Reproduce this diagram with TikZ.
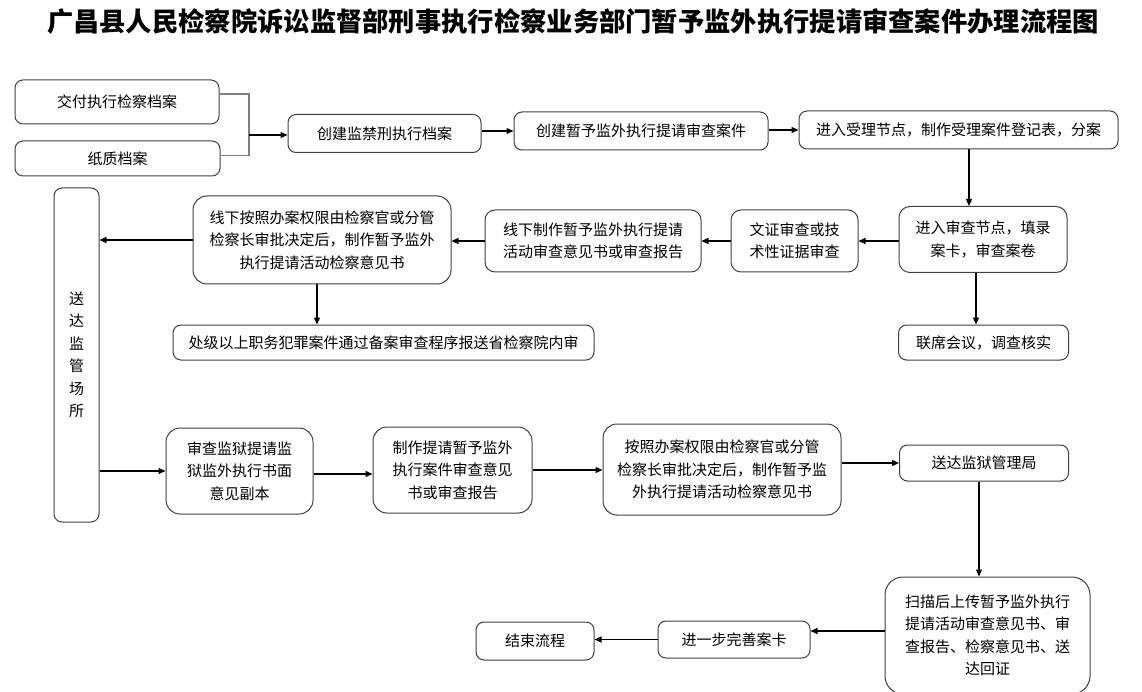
\documentclass[tikz,border=0pt]{standalone}
\usepackage{fontspec}
\setmainfont{Noto Sans CJK SC}
\usetikzlibrary{arrows.meta}
\tikzset{
  box/.style={draw=black!75, line width=1pt, rounded corners=8pt, align=center,
    font=\fontsize{15}{22.5}\selectfont, inner sep=0pt},
  bigbox/.style={box, rounded corners=14pt},
  arr/.style={draw=black, line width=1.2pt, -{Triangle[length=7pt,width=6pt]}},
  joinline/.style={draw=black!50, line width=1.2pt},
  titlefont/.style={font=\fontsize{26.3}{28}\selectfont\bfseries}
}
\begin{document}
\begin{tikzpicture}[x=1pt,y=-1pt]
\fill[white] (0,0) rectangle (1142,692);
\useasboundingbox (0,0) rectangle (1142,692);

\node[titlefont] (title) at (573,22) {广昌县人民检察院诉讼监督部刑事执行检察业务部门暂予监外执行提请审查案件办理流程图};

% row 1
\node[box, minimum width=204pt, minimum height=44pt] (n1) at (117,102) {交付执行检察档案};
\node[box, minimum width=205pt, minimum height=35pt] (n2) at (117.5,158.5) {纸质档案};
\coordinate (jn) at (249,135);
\node[box, minimum width=193pt, minimum height=38pt] (n3) at (384.5,133.5) {创建监禁刑执行档案};
\node[box, minimum width=254pt, minimum height=38pt] (n4) at (641,131) {创建暂予监外执行提请审查案件};
\node[box, minimum width=319pt, minimum height=38pt] (n5) at (958.5,130) {进入受理节点，制作受理案件登记表，分案};

% row 2
\node[bigbox, rounded corners=11pt, minimum width=168pt, minimum height=66pt] (n6) at (983,239.5) {进入审查节点，填录\\案卡，审查案卷};
\node[box, rounded corners=10pt, minimum width=127pt, minimum height=62pt] (n7) at (794.5,241) {文证审查或技\\术性证据审查};
\node[box, rounded corners=10pt, minimum width=216pt, minimum height=62pt] (n8) at (593,241) {线下制作暂予监外执行提请\\活动审查意见书或审查报告};
\node[bigbox, minimum width=258pt, minimum height=88pt] (n9) at (322,240) {线下按照办案权限由检察官或分管\\检察长审批决定后，制作暂予监外\\执行提请活动检察意见书};
\node[box, minimum width=421pt, minimum height=35pt] (n10) at (383.5,342.5) {处级以上职务犯罪案件通过备案审查程序报送省检察院内审};
\node[box, minimum width=170pt, minimum height=35pt] (n11) at (983.5,342.5) {联席会议，调查核实};

% left vertical box
\node[box, minimum width=45pt, minimum height=334pt] (n12) at (76.5,355) {送\\达\\监\\管\\场\\所};

% row 3
\node[bigbox, minimum width=147pt, minimum height=86pt] (n13) at (239.5,471) {审查监狱提请监\\狱监外执行书面\\意见副本};
\node[bigbox, minimum width=159pt, minimum height=86pt] (n14) at (452.5,470) {制作提请暂予监外\\执行案件审查意见\\书或审查报告};
\node[bigbox, minimum width=238pt, minimum height=91pt] (n15) at (722,469.5) {按照办案权限由检察官或分管\\检察长审批决定后，制作暂予监\\外执行提请活动检察意见书};
\node[box, minimum width=169pt, minimum height=36pt] (n16) at (984,463) {送达监狱管理局};

% row 4
\node[bigbox, rounded corners=18pt, minimum width=205pt, minimum height=117pt] (n17) at (987.5,635.5) {扫描后上传暂予监外执行\\提请活动审查意见书、审\\查报告、检察意见书、送\\达回证};
\node[box, minimum width=152pt, minimum height=37pt] (n18) at (734,639.5) {进一步完善案卡};
\node[box, minimum width=118pt, minimum height=38pt] (n19) at (535,641) {结束流程};

% connectors
\draw[joinline] ([yshift=8pt]n1.east) -| (jn) |- ([yshift=3pt]n2.east);
\draw[arr] (jn) -- (jn -| n3.west);
\draw[arr] (n3.east |- n4.west) -- (n4.west);
\draw[arr] ([yshift=1pt]n4.east) -- ([yshift=1pt]n4.east -| n5.west);
\draw[arr] ([xshift=-14pt]n6.north |- n5.south) -- ([xshift=-14pt]n6.north);
\draw[arr] (n6.west |- n7.east) -- (n7.east);
\draw[arr] (n7.west) -- (n7.west -| n8.east);
\draw[arr] (n8.west) -- (n8.west -| n9.east);
\draw[arr] (n9.west) -- (n9.west -| n12.east);
\draw[arr] ([xshift=-5pt]n9.south) -- ([xshift=-5pt]n9.south |- n10.north);
\draw[arr] ([xshift=-7pt]n6.south) -- ([xshift=-7pt]n6.south |- n11.north);
\draw[arr] (n12.east |- n13.west) -- (n13.west);
\draw[arr] ([yshift=-3pt]n13.east) -- ([yshift=-3pt]n13.east -| n14.west);
\draw[arr] (n14.east) -- (n14.east -| n15.west);
\draw[arr] (n15.east |- n16.west) -- (n16.west);
\draw[arr] ([xshift=-5pt]n16.south) -- ([xshift=-5pt]n16.south |- n17.north);
\draw[arr] ([yshift=4.5pt]n17.west) -- ([yshift=4.5pt]n17.west -| n18.east);
\draw[arr] (n18.west) -- (n18.west -| n19.east);
\end{tikzpicture}
\end{document}
